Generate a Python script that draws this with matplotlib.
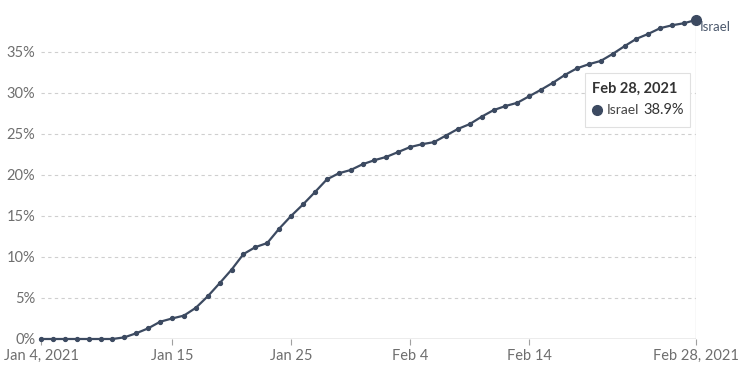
import datetime
import numpy as np
import matplotlib
matplotlib.use("Agg")
import matplotlib.pyplot as plt
import matplotlib.dates as mdates
from matplotlib.patches import FancyBboxPatch
from matplotlib.lines import Line2D

plt.rcParams['font.family'] = ['Lato', 'DejaVu Sans']

# share of people vaccinated, Israel, daily from Jan 4 to Feb 28, 2021
start = datetime.date(2021, 1, 4)
share = [0, 0, 0, 0, 0, 0, 0, 0.2, 0.7, 1.3, 2.1, 2.5, 2.85, 3.8, 5.2, 6.8,
         8.45, 10.35, 11.2, 11.7, 13.45, 15.0, 16.4, 17.9, 19.45, 20.2, 20.6,
         21.3, 21.8, 22.2, 22.8, 23.4, 23.75, 24.0, 24.8, 25.6, 26.2, 27.1,
         27.9, 28.4, 28.8, 29.6, 30.4, 31.25, 32.2, 33.0, 33.5, 33.9, 34.75,
         35.7, 36.6, 37.2, 37.9, 38.25, 38.5, 38.9]
dates = [start + datetime.timedelta(days=i) for i in range(len(share))]

yticks = [0, 5, 10, 15, 20, 25, 30, 35]
xtick_dates = [datetime.date(2021, 1, 4), datetime.date(2021, 1, 15),
               datetime.date(2021, 1, 25), datetime.date(2021, 2, 4),
               datetime.date(2021, 2, 14), datetime.date(2021, 2, 28)]
xtick_labels = ["Jan 4, 2021", "Jan 15", "Jan 25", "Feb 4", "Feb 14", "Feb 28, 2021"]

line_col = '#3c4a61'
grey = '#6e6e6e'

fig = plt.figure(figsize=(7.4, 3.7), dpi=100)
ax = fig.add_axes([0.0554, 0.0838, 0.8851, 0.865])

ax.plot(dates, share, '-o', color=line_col, lw=1.6, ms=2.8, clip_on=False, zorder=3)
ax.plot(dates[-1], share[-1], 'o', color=line_col, ms=7, clip_on=False, zorder=4)

ax.set_xlim(dates[0], dates[-1])
ax.set_ylim(0, 39.02)

for y in yticks[1:]:
    ax.axhline(y, color='#cfcfcf', lw=0.8, ls=(0, (3, 3)), zorder=1)
ax.axhline(0, color='#a0a0a0', lw=1, zorder=2)
ax.axvline(dates[-1], color='#dddddd', lw=1, zorder=1)

ax.set_yticks(yticks)
ax.set_yticklabels([f"{y}%" for y in yticks])
ax.set_xticks(xtick_dates)
ax.set_xticklabels(xtick_labels)
ax.tick_params(axis='y', length=0, pad=4, labelsize=10.5, labelcolor=grey)
ax.tick_params(axis='x', length=4, color='#a0a0a0', pad=3, labelsize=10.5, labelcolor=grey)

for s in ax.spines.values():
    s.set_visible(False)

# series label at the end
ax.annotate("Israel", (mdates.date2num(dates[-1]), share[-1]), xytext=(3, -8),
            textcoords='offset points', fontsize=9.5, color='#4d5a6e',
            annotation_clip=False)

# tooltip box
box = FancyBboxPatch((585 / 740, 1 - 127 / 370), 105 / 740, 54 / 370,
                     boxstyle='square,pad=0', transform=fig.transFigure,
                     facecolor='white', edgecolor='#e0e0e0', lw=0.8, zorder=5)
fig.patches.append(box)
fig.text(592 / 740, 1 - 89 / 370, "Feb 28, 2021", fontsize=10.5, fontweight='bold',
         color='#333333', va='center', zorder=6)
dot = Line2D([597 / 740], [1 - 110 / 370], marker='o', ms=7, color=line_col,
             transform=fig.transFigure, zorder=6)
fig.lines.append(dot)
fig.text(607 / 740, 1 - 110 / 370, "Israel", fontsize=10, color='#444444', va='center', zorder=6)
fig.text(684 / 740, 1 - 110 / 370, "38.9%", fontsize=10.5, color='#333333',
         va='center', ha='right', zorder=6)

plt.savefig("out.png", dpi=100)
